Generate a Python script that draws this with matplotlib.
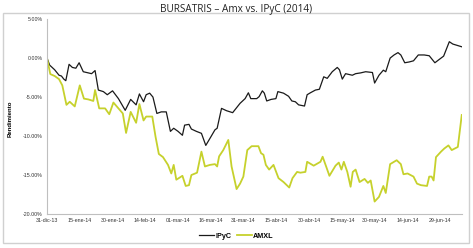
import matplotlib
matplotlib.use("Agg")
import matplotlib.pyplot as plt
import matplotlib.ticker as mticker
from matplotlib.patches import Rectangle
import pandas as pd

# Días transcurridos desde el 31-dic-13 y rendimiento acumulado (%)
ipc_dias = [0, 1.2, 3.5, 5.5, 6.6, 7.7, 8.6, 10.1, 11.6, 13.2, 14.7, 16.6, 18.9, 20.4, 22.0,
            23.5, 25.8, 27.6, 30.0, 32.7, 35.8, 38.3, 40.8, 42.3, 44.2, 45.4, 47.0, 48.5,
            50.3, 52.3, 54.6, 56.5, 58.0, 60.0, 62.0, 63.0, 65.0, 66.1, 68.4, 70.7, 72.7,
            74.6, 76.9, 77.9, 79.9, 82.2, 85.0, 88.4, 90.7, 92.2, 93.3, 96.0, 97.1, 98.6,
            99.5, 100.6, 102.6, 104.8, 105.7, 108.3, 110.6, 112.1, 113.7, 115.2, 117.9,
            119.1, 120.6, 122.9, 124.7, 126.7, 128.3, 130.6, 132.9, 133.9, 135.2, 136.7,
            139.8, 141.3, 143.6, 145.9, 149.0, 150.0, 152.0, 154.0, 155.1, 157.1, 158.9,
            160.7, 162.0, 163.8, 165.8, 167.8, 170.0, 172.7, 175.0, 177.6, 179.6, 181.6,
            184.2, 185.8, 189.9]
ipc_vals = [0.0, -0.9, -1.5, -2.2, -2.3, -2.7, -2.9, -0.8, -1.2, -1.3, -0.6, -1.75, -1.9, -2.0, -1.6,
            -4.1, -4.3, -4.7, -4.2, -5.2, -6.7, -5.3, -6.0, -4.6, -5.6, -4.7, -4.5, -5.0,
            -7.1, -6.9, -6.9, -9.4, -9.0, -9.4, -9.9, -8.6, -8.5, -9.1, -9.4, -9.65, -11.2,
            -10.3, -9.2, -9.0, -6.45, -6.75, -7.0, -5.8, -5.2, -4.45, -5.2, -5.2, -4.95, -4.2,
            -4.5, -5.5, -5.3, -5.2, -4.3, -4.5, -4.9, -5.5, -5.6, -6.0, -6.15,
            -4.7, -4.45, -4.1, -4.0, -2.4, -2.6, -1.75, -1.2, -1.5, -2.7, -2.0,
            -2.2, -2.0, -1.9, -1.75, -1.85, -3.2, -2.2, -1.55, -1.75, 0.0, 0.4,
            0.7, 0.4, -0.6, -0.5, -0.35, 0.4, 0.4, 0.3, -0.6, -0.17, 0.25,
            2.1, 1.8, 1.45]

amxl_dias = [0, 1.5, 3.5, 5.5, 7.0, 8.9, 10.4, 12.7, 15.0, 16.9, 18.9, 21.2, 22.0, 23.9, 26.6,
             28.5, 30.4, 32.7, 34.7, 36.2, 38.3, 40.8, 42.3, 44.2, 45.4, 48.2, 49.7, 51.2,
             53.1, 55.4, 56.9, 58.0, 59.2, 62.0, 63.5, 65.0, 66.1, 68.7, 70.7, 72.3, 74.6,
             76.9, 77.9, 78.8, 80.7, 83.0, 84.5, 86.8, 88.4, 89.9, 91.7, 93.7, 96.8, 98.0,
             99.1, 100.2, 101.7, 103.7, 106.0, 108.3, 110.9, 112.4, 114.5, 116.0, 118.3,
             119.1, 122.1, 125.2, 126.2, 127.8, 129.3, 132.1, 133.6, 134.8, 135.9, 137.5,
             139.0, 140.0, 141.3, 143.1, 145.4, 146.9, 148.2, 150.0, 152.0, 154.0, 155.1,
             157.1, 158.9, 160.1, 162.0, 163.2, 165.1, 167.8, 169.4, 171.2, 174.0, 175.0,
             176.1, 177.0, 178.1, 180.4, 181.9, 183.8, 185.3, 188.1, 189.9]
amxl_vals = [0.0, -2.05, -2.3, -2.7, -3.5, -6.0, -5.6, -6.2, -3.5, -5.2, -5.3, -5.5, -4.1, -6.45, -6.45,
             -7.2, -5.7, -6.45, -7.1, -9.6, -6.9, -8.3, -5.9, -8.0, -7.5, -7.5, -10.1, -12.3,
             -12.7, -13.7, -14.8, -13.7, -15.6, -15.1, -16.4, -16.3, -15.0, -14.7, -12.0, -13.9, -13.7,
             -13.6, -13.9, -12.6, -11.8, -10.5, -13.9, -16.8, -16.1, -15.2, -11.8, -11.3, -11.3, -12.2,
             -12.4, -13.7, -14.3, -13.7, -15.4, -15.9, -16.6, -15.4, -14.6, -14.7, -14.6,
             -13.3, -13.8, -13.3, -12.65, -13.9, -15.1, -13.8, -13.4, -14.3, -13.3, -14.6,
             -16.5, -14.6, -14.3, -15.9, -15.5, -16.0, -15.7, -18.4, -17.8, -16.4, -17.3,
             -13.6, -13.3, -13.1, -13.6, -14.9, -14.8, -15.2, -16.1, -16.3, -16.4, -15.2,
             -15.2, -15.7, -12.7, -12.0, -11.6, -11.2, -11.8, -11.4, -7.3]

inicio = pd.Timestamp("2013-12-31")
fin = pd.Timestamp("2014-07-09")
ticks_x = pd.date_range(inicio, periods=13, freq="15D")
meses = {1: "ene", 2: "feb", 3: "mar", 4: "abr", 5: "may", 6: "jun", 7: "jul", 12: "dic"}
etiquetas_x = [f"{d.day:02d}-{meses[d.month]}-{d.strftime('%y')}" for d in ticks_x]

ipc_fechas = inicio + pd.to_timedelta(ipc_dias, unit="D")
amxl_fechas = inicio + pd.to_timedelta(amxl_dias, unit="D")

fig = plt.figure(figsize=(4.73, 2.48), dpi=100)
ax = fig.add_axes([0.0994, 0.137, 0.8773, 0.786])

# Marco exterior gris
fig.patches.append(Rectangle((0.0063, 0.020), 0.985, 0.927, transform=fig.transFigure,
                             fill=False, edgecolor="#d0d0d0", linewidth=1))

ax.plot(ipc_fechas, ipc_vals, color="#1a1a1a", linewidth=0.9, label="IPyC")
ax.plot(amxl_fechas, amxl_vals, color="#c6d12c", linewidth=1.3, label="AMXL")

ax.set_ylim(-20, 5)
ax.set_xlim(inicio, fin)
ax.yaxis.set_major_locator(mticker.MultipleLocator(5))
ax.yaxis.set_major_formatter(mticker.FuncFormatter(lambda v, p: f"{v:.2f}%"))
ax.set_xticks(ticks_x)
ax.set_xticklabels(etiquetas_x)

for s in ["top", "right"]:
    ax.spines[s].set_visible(False)
for s in ["left", "bottom"]:
    ax.spines[s].set_color("#bfbfbf")
    ax.spines[s].set_linewidth(0.8)
ax.tick_params(axis="both", length=0, labelsize=3.8, colors="#333333", pad=3)
for lbl in ax.get_xticklabels() + ax.get_yticklabels():
    lbl.set_family("Liberation Sans")

ax.set_ylabel("Rendimiento", fontsize=4.3, fontweight="bold", family="Liberation Sans")
ax.yaxis.set_label_coords(-0.082, 0.49)

fig.text(0.5, 0.962, "BURSATRIS – Amx vs. IPyC (2014)", ha="center", va="center",
         fontsize=7.2, family="Open Sans", color="#222222")

leg = fig.legend(loc="center", bbox_to_anchor=(0.5, 0.048), ncol=2, frameon=False,
                 prop={"family": "Liberation Sans", "size": 5.2, "weight": "bold"},
                 handlelength=2.0, handletextpad=0.2, columnspacing=0.8)

fig.savefig("out.png", dpi=100)
